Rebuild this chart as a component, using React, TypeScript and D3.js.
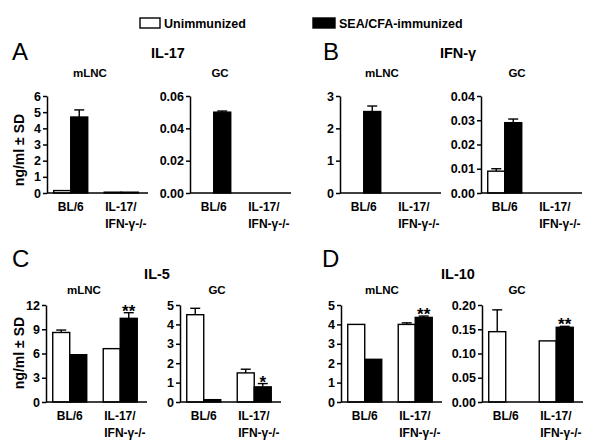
import React, { useEffect, useRef } from "react";
import * as d3 from "d3";

const groups = ["BL/6", "IL-17/IFN-γ-/-"];
const groupLines = [["BL/6"], ["IL-17/", "IFN-γ-/-"]];
const series = ["Unimmunized", "SEA/CFA-immunized"];

// [group][series] -> mean / SD, ng/ml
const il17MlncMean = [[0.15, 4.7], [0.05, 0.05]];
const il17MlncSd = [[0, 0.44], [0, 0]];
const il17GcMean = [[0, 0.05], [0, 0]];
const il17GcSd = [[0, 0.0007], [0, 0]];
const ifngMlncMean = [[0, 2.52], [0, 0]];
const ifngMlncSd = [[0, 0.17], [0, 0]];
const ifngGcMean = [[0.009, 0.029], [0, 0]];
const ifngGcSd = [[0.001, 0.0015], [0, 0]];
const il5MlncMean = [[8.6, 5.85], [6.6, 10.35]];
const il5MlncSd = [[0.3, 0], [0, 0.7]];
const il5GcMean = [[4.5, 0.12], [1.5, 0.78]];
const il5GcSd = [[0.33, 0], [0.19, 0.17]];
const il10MlncMean = [[4.0, 2.2], [4.0, 4.36]];
const il10MlncSd = [[0, 0], [0.08, 0.07]];
const il10GcMean = [[0.145, 0], [0.126, 0.154]];
const il10GcSd = [[0.045, 0], [0, 0.002]];

const noSig = [["", ""], ["", ""]];
const il5MlncSig = [["", ""], ["", "**"]];
const il5GcSig = [["", ""], ["", "*"]];
const il10MlncSig = [["", ""], ["", "**"]];
const il10GcSig = [["", ""], ["", "**"]];

const il17MlncTicks = [0, 1, 2, 3, 4, 5, 6];
const il17GcTicks = [0, 0.02, 0.04, 0.06];
const ifngMlncTicks = [0, 1, 2, 3];
const ifngGcTicks = [0, 0.01, 0.02, 0.03, 0.04];
const il5MlncTicks = [0, 3, 6, 9, 12];
const il5GcTicks = [0, 1, 2, 3, 4, 5];
const il10MlncTicks = [0, 1, 2, 3, 4, 5];
const il10GcTicks = [0, 0.05, 0.1, 0.15, 0.2];

const FONT = "Arial, 'Liberation Sans', Helvetica, sans-serif";

const rows = [
  { top: 96, bottom: 193, letterY: 60, titleY: 58, subY: 77, labY: 211, ylabY: 150 },
  { top: 305, bottom: 402, letterY: 267, titleY: 279, subY: 294, labY: 420, ylabY: 353 },
];

const panels = [
  { letter: "A", title: "IL-17", row: 0, letterX: 12, titleX: 168 },
  { letter: "B", title: "IFN-γ", row: 0, letterX: 323, titleX: 458 },
  { letter: "C", title: "IL-5", row: 1, letterX: 12, titleX: 157 },
  { letter: "D", title: "IL-10", row: 1, letterX: 322, titleX: 458 },
];

const subplots = [
  { name: "mLNC", row: 0, x0: 47, nameX: 90, mean: il17MlncMean, sd: il17MlncSd, ticks: il17MlncTicks, fmt: "d", sig: noSig, ylab: true },
  { name: "GC", row: 0, x0: 190, nameX: 220, mean: il17GcMean, sd: il17GcSd, ticks: il17GcTicks, fmt: ".2f", sig: noSig, ylab: false },
  { name: "mLNC", row: 0, x0: 340, nameX: 382, mean: ifngMlncMean, sd: ifngMlncSd, ticks: ifngMlncTicks, fmt: "d", sig: noSig, ylab: false },
  { name: "GC", row: 0, x0: 481, nameX: 517, mean: ifngGcMean, sd: ifngGcSd, ticks: ifngGcTicks, fmt: ".2f", sig: noSig, ylab: false },
  { name: "mLNC", row: 1, x0: 46, nameX: 84, mean: il5MlncMean, sd: il5MlncSd, ticks: il5MlncTicks, fmt: "d", sig: il5MlncSig, ylab: true },
  { name: "GC", row: 1, x0: 180, nameX: 217, mean: il5GcMean, sd: il5GcSd, ticks: il5GcTicks, fmt: "d", sig: il5GcSig, ylab: false },
  { name: "mLNC", row: 1, x0: 341, nameX: 382, mean: il10MlncMean, sd: il10MlncSd, ticks: il10MlncTicks, fmt: "d", sig: il10MlncSig, ylab: false },
  { name: "GC", row: 1, x0: 482, nameX: 517, mean: il10GcMean, sd: il10GcSd, ticks: il10GcTicks, fmt: ".2f", sig: il10GcSig, ylab: false },
];

const App: React.FC = () => {
  const svgRef = useRef<SVGSVGElement>(null);

  useEffect(() => {
    const svg = d3.select(svgRef.current);
    svg.selectAll("*").remove();
    svg.style("font-family", FONT);

    // legend
    const legend = [
      { x: 140, w: 20 },
      { x: 313, w: 22 },
    ];
    series.forEach((s, i) => {
      svg.append("rect")
        .attr("x", legend[i].x).attr("y", 18)
        .attr("width", legend[i].w).attr("height", 10)
        .attr("fill", i === 0 ? "#fff" : "#000")
        .attr("stroke", "#000").attr("stroke-width", 1.4);
      svg.append("text")
        .attr("x", legend[i].x + legend[i].w + 4).attr("y", 27.5)
        .attr("font-size", 12.5).attr("font-weight", "bold")
        .text(s);
    });

    panels.forEach((p) => {
      const r = rows[p.row];
      svg.append("text")
        .attr("x", p.letterX).attr("y", r.letterY)
        .attr("font-size", 24).attr("font-weight", "normal")
        .text(p.letter);
      svg.append("text")
        .attr("x", p.titleX).attr("y", r.titleY)
        .attr("text-anchor", "middle")
        .attr("font-size", 14.5).attr("font-weight", "bold")
        .text(p.title);
    });

    const W = 101;

    subplots.forEach((sp) => {
      const r = rows[sp.row];
      const g = svg.append("g").attr("transform", `translate(${sp.x0},0)`);

      g.append("text")
        .attr("x", sp.nameX - sp.x0).attr("y", r.subY)
        .attr("text-anchor", "middle")
        .attr("font-size", 11.5).attr("font-weight", "bold")
        .text(sp.name);

      const y = d3.scaleLinear()
        .domain([0, sp.ticks[sp.ticks.length - 1]])
        .range([r.bottom, r.top]);
      const x = d3.scalePoint<string>().domain(groups).range([0, W]).padding(0.5).align(0.47);
      const xs = d3.scaleBand<string>().domain(series).range([-17, 17]).padding(0);

      // bars
      groups.forEach((grp, gi) => {
        series.forEach((s, si) => {
          const v = sp.mean[gi][si];
          if (v <= 0) return;
          const bx = x(grp)! + xs(s)!;
          const cx = bx + xs.bandwidth() / 2;
          const sd = sp.sd[gi][si];
          const errTop = y(v + sd);
          if (sd > 0) {
            g.append("line")
              .attr("x1", cx).attr("x2", cx)
              .attr("y1", y(v)).attr("y2", errTop)
              .attr("stroke", "#000").attr("stroke-width", 1.4);
            g.append("line")
              .attr("x1", cx - 5).attr("x2", cx + 5)
              .attr("y1", errTop).attr("y2", errTop)
              .attr("stroke", "#000").attr("stroke-width", 1.4);
          }
          g.append("rect")
            .attr("x", bx).attr("y", y(v))
            .attr("width", xs.bandwidth())
            .attr("height", r.bottom - y(v))
            .attr("fill", si === 0 ? "#fff" : "#000")
            .attr("stroke", "#000").attr("stroke-width", 1.4);
          const mark = sp.sig[gi][si];
          if (mark) {
            g.append("text")
              .attr("x", cx).attr("y", errTop + 4)
              .attr("text-anchor", "middle")
              .attr("font-size", 17).attr("font-weight", "bold")
              .text(mark);
          }
        });
      });

      // y axis
      const yAxis = g.append("g")
        .call(d3.axisLeft(y).tickValues(sp.ticks)
          .tickFormat(d3.format(sp.fmt) as any)
          .tickSize(4).tickPadding(2).tickSizeOuter(0));
      yAxis.select(".domain").attr("stroke-width", 1.5);
      yAxis.selectAll(".tick line").attr("stroke-width", 1.5);
      yAxis.selectAll("text")
        .attr("font-size", 12.5).attr("font-weight", "bold")
        .attr("font-family", FONT).attr("fill", "#000");

      // x axis
      g.append("line")
        .attr("x1", 0).attr("x2", W)
        .attr("y1", r.bottom).attr("y2", r.bottom)
        .attr("stroke", "#000").attr("stroke-width", 1.5);

      groups.forEach((grp, gi) => {
        const lines = groupLines[gi];
        const cx = x(grp)!;
        lines.forEach((ln, li) => {
          g.append("text")
            .attr("x", lines.length > 1 ? cx - 16 : cx)
            .attr("y", r.labY + li * 17)
            .attr("text-anchor", lines.length > 1 ? "start" : "middle")
            .attr("font-size", 12).attr("font-weight", "bold")
            .text(ln);
        });
      });

      if (sp.ylab) {
        svg.append("text")
          .attr("transform", `translate(24,${r.ylabY}) rotate(-90)`)
          .attr("text-anchor", "middle")
          .attr("font-size", 14).attr("font-weight", "bold")
          .text("ng/ml ± SD");
      }
    });
  }, []);

  return (
    <div>
      <svg
        ref={svgRef}
        width={600}
        height={445}
        style={{ position: "absolute", left: 0, top: 0, background: "#fff" }}
      ></svg>
    </div>
  );
};

export default App;
